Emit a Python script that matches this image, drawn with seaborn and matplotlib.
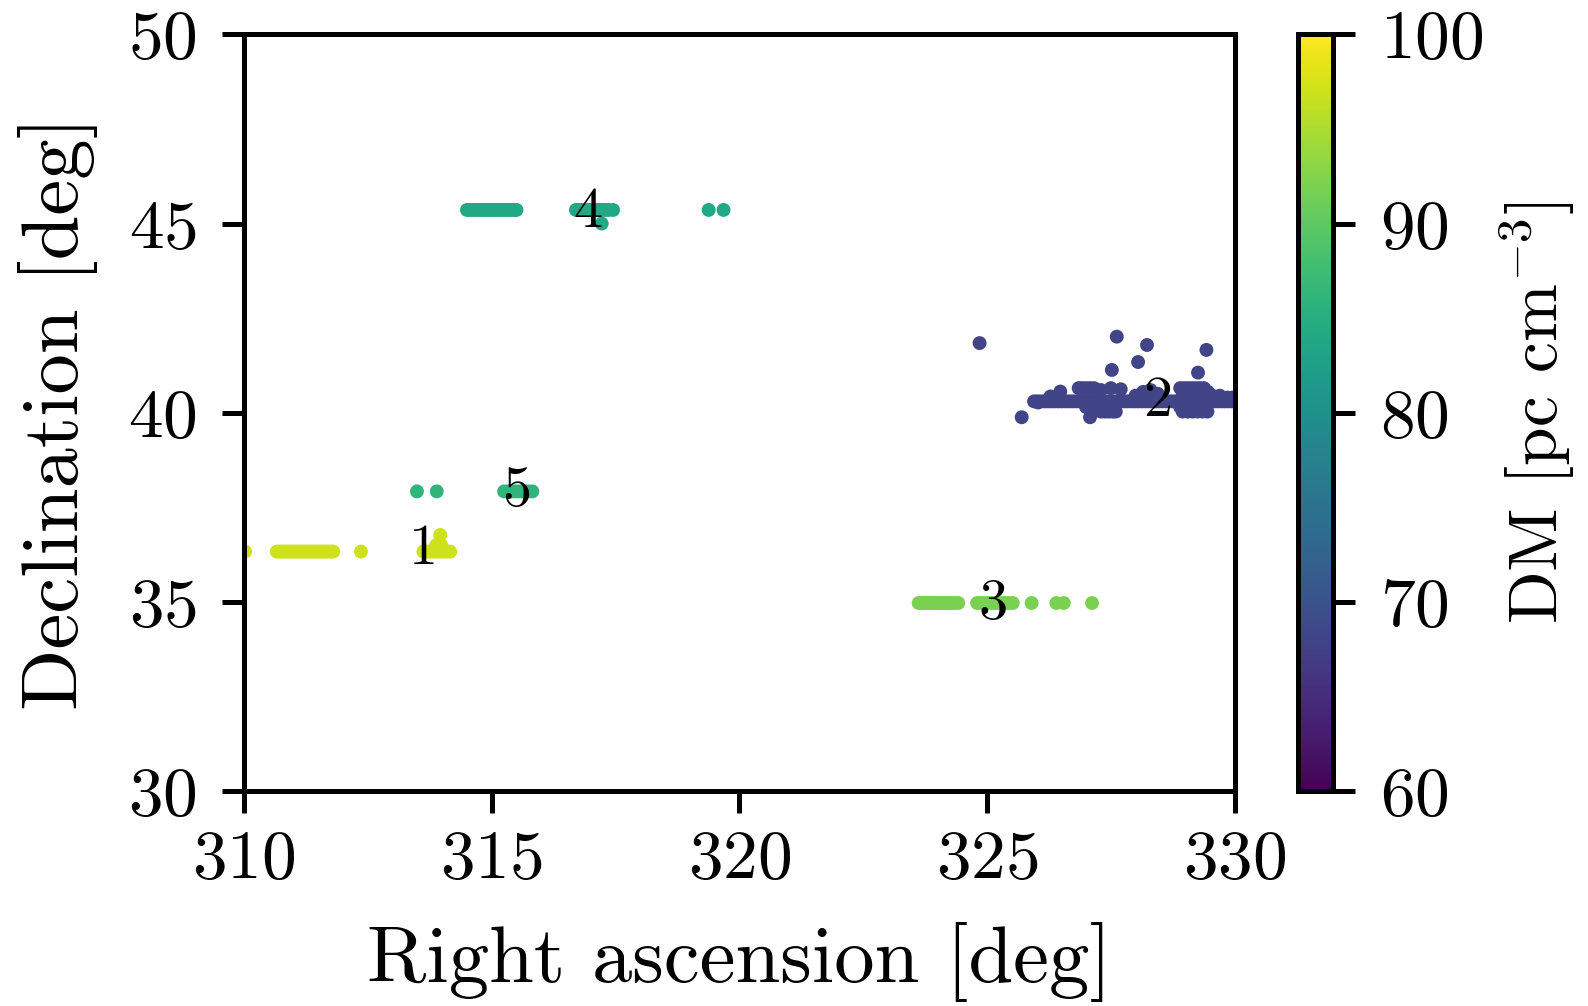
import numpy as np
import pandas as pd
import matplotlib
matplotlib.use("Agg")
import matplotlib.pyplot as plt
import seaborn as sns

sns.set_theme(style="ticks")
plt.rcParams['font.family'] = ['cmr10', 'DejaVu Serif']
plt.rcParams['mathtext.fontset'] = 'cm'
plt.rcParams['axes.formatter.use_mathtext'] = True
plt.rcParams['axes.unicode_minus'] = False
plt.rcParams['text.color'] = 'black'
plt.rcParams['axes.labelcolor'] = 'black'

# ---- data ----
ra1 = [310.02, 310.66, 310.71, 310.76, 310.81, 310.86, 310.91, 310.96, 311.01, 311.06,
       311.11, 311.16, 311.21, 311.26, 311.31, 311.36, 311.41, 311.46, 311.51, 311.56,
       311.61, 311.66, 311.71, 311.76, 311.80, 312.36,
       313.62, 313.68, 313.74, 313.80, 313.86, 313.92, 313.98, 314.04, 314.10, 314.16,
       313.88, 313.98, 313.96]
dec1 = [36.33] * 36 + [36.50, 36.50, 36.77]
dm1 = 97.0

ra2 = [325.95, 326.02, 326.09, 326.16, 326.23, 326.30, 326.37, 326.44, 326.51, 326.58,
       326.65, 326.72, 326.79, 326.86, 326.93, 327.00, 327.07, 327.14, 327.21, 327.28,
       327.35, 327.42, 327.49, 327.56, 327.63, 327.70, 327.77, 327.84, 327.91, 327.98,
       328.05, 328.12, 328.19, 328.26, 328.33, 328.40, 328.47, 328.54, 328.61, 328.68,
       328.75, 328.82, 328.89, 328.96, 329.03, 329.10, 329.17, 329.24, 329.31, 329.38,
       329.45, 329.52, 329.59, 329.66, 329.73, 329.80, 329.87, 329.94, 330.00,
       326.03, 326.28, 326.48, 326.85, 326.92, 327.00, 327.08, 327.16, 327.30, 327.50, 327.70,
       328.00, 328.15, 328.30, 328.45, 328.90, 328.98, 329.06, 329.14, 329.22, 329.30, 329.38, 329.46,
       327.30, 327.38, 327.46, 327.54, 327.60, 328.95, 329.05, 329.15, 329.25, 329.35, 329.45,
       328.95, 329.10, 329.25, 329.40, 329.55, 329.70, 329.85, 329.95, 327.00, 327.20, 327.40,
       328.90, 329.05, 329.20, 329.35,
       324.85, 327.62, 328.23, 329.43, 328.05, 327.52, 329.26, 325.70, 327.08]
dec2 = [40.30] * 59 + \
       [40.27, 40.43, 40.56, 40.65, 40.65, 40.65, 40.65, 40.65, 40.60, 40.65, 40.62,
        40.45, 40.55, 40.60, 40.50, 40.65, 40.65, 40.65, 40.65, 40.65, 40.65, 40.65, 40.55] + \
       [40.03, 40.03, 40.03, 40.03, 40.03, 40.03, 40.03, 40.03, 40.03, 40.03, 40.03] + \
       [40.45, 40.45, 40.45, 40.45, 40.45, 40.45, 40.40, 40.40, 40.15, 40.15, 40.15] + \
       [40.15, 40.15, 40.15, 40.15] + \
       [41.84, 42.01, 41.79, 41.66, 41.34, 41.13, 41.06, 39.88, 39.88]
dm2 = 68.0

ra3 = [323.62, 323.68, 323.74, 323.80, 323.86, 323.92, 323.98, 324.04, 324.10, 324.16,
       324.22, 324.28, 324.34, 324.42,
       324.80, 324.87, 324.94, 325.01, 325.08, 325.15, 325.22, 325.29, 325.36, 325.43, 325.52,
       325.90, 326.40, 326.55, 327.12]
dec3 = [34.97] * 29
dm3 = 92.0

ra4 = [314.50, 314.56, 314.62, 314.68, 314.74, 314.80, 314.86, 314.92, 314.98, 315.04,
       315.10, 315.16, 315.22, 315.28, 315.34, 315.40, 315.46, 315.50,
       316.70, 316.76, 316.82, 316.88, 316.94, 317.00, 317.06, 317.12, 317.18, 317.24,
       317.30, 317.36, 317.45,
       317.22, 319.38, 319.68]
dec4 = [45.36] * 31 + [45.00, 45.36, 45.36]
dm4 = 84.0

ra5 = [313.49, 313.89, 315.25, 315.32, 315.39, 315.46, 315.53, 315.60, 315.67, 315.74, 315.82]
dec5 = [37.92] * 11
dm5 = 86.0

labels = ["1", "2", "3", "4", "5"]
label_ra = [313.63, 328.45, 325.12, 316.94, 315.50]
label_dec = [36.38, 40.29, 34.94, 45.29, 37.93]

ra_all = ra1 + ra2 + ra3 + ra4 + ra5
dec_all = dec1 + dec2 + dec3 + dec4 + dec5
dm_all = [dm1] * len(ra1) + [dm2] * len(ra2) + [dm3] * len(ra3) + [dm4] * len(ra4) + [dm5] * len(ra5)
df = pd.DataFrame({"ra": ra_all, "dec": dec_all, "dm": dm_all})

# ---- plot ----
fig = plt.figure(figsize=(7.94, 5.03), dpi=200)
ax = fig.add_axes([0.1537, 0.2137, 0.6238, 0.7521])
cax = fig.add_axes([0.8174, 0.2137, 0.0220, 0.7521])

norm = matplotlib.colors.Normalize(vmin=60, vmax=100)
sns.scatterplot(data=df, x="ra", y="dec", hue="dm", palette="viridis", hue_norm=norm,
                s=25, linewidth=0, legend=False, ax=ax)

for t, x, y in zip(labels, label_ra, label_dec):
    ax.text(x, y, t, fontsize=21, ha="center", va="center", color="black")

ax.set_xlim(310, 330)
ax.set_ylim(30, 50)
ax.set_xticks([310, 315, 320, 325, 330])
ax.set_yticks([30, 35, 40, 45, 50])
ax.set_xlabel("Right ascension [deg]", fontsize=29, labelpad=11)
ax.set_ylabel("Declination [deg]", fontsize=29, labelpad=11)

sm = matplotlib.cm.ScalarMappable(norm=norm, cmap="viridis")
cb = fig.colorbar(sm, cax=cax)
cb.set_ticks([60, 70, 80, 90, 100])
cb.set_label("DM [pc cm$^{-3}$]", fontsize=25, labelpad=5)

for a in (ax, cax):
    for sp in a.spines.values():
        sp.set_linewidth(1.8)
        sp.set_color("black")
    a.tick_params(width=1.8, length=8, labelsize=25, colors="black", direction="out", pad=6)
ax.tick_params(axis="y", pad=9)
cax.tick_params(axis="y", pad=9)
cb.outline.set_linewidth(1.8)

fig.savefig("out.png", dpi=200)
